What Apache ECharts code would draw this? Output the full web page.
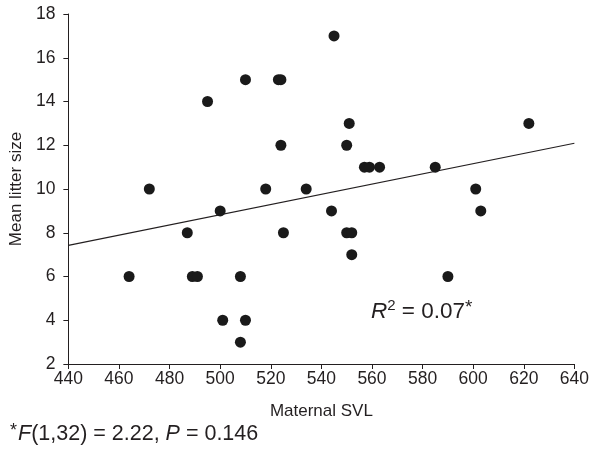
<!DOCTYPE html>
<html>
<head>
<meta charset="utf-8">
<script src="https://cdn.jsdelivr.net/npm/echarts@6/dist/echarts.min.js"></script>
<style>html,body{margin:0;padding:0;background:#fff}#c{width:592px;height:453px}</style>
</head>
<body>
<div id="c"></div>
<script>
// Maternal SVL values
var svl = [464,472,487,489,491,495,500,501,508,508,510,510,518,523,524,524,525,534,544,545,550,550,551,552,552,557,559,563,585,590,601,603,622];
// Mean litter size values
var litter = [6,10,8,6,6,14,9,4,6,3,15,4,10,15,15,12,8,10,9,17,12,8,13,8,7,11,11,11,11,6,10,9,13];
// Regression line end points
var fitX = [440, 640];
var fitY = [7.42, 12.09];
var xTicks = {min:440, max:640, interval:20};
var yTicks = {min:2, max:18, interval:2};

var pts = svl.map(function(x,i){return [x, litter[i]];});
var fit = fitX.map(function(x,i){return [x, fitY[i]];});
var font = 'Liberation Sans, Arial, sans-serif';
var ink = '#231f20';

var chart = echarts.init(document.getElementById('c'));
chart.setOption({
  animation:false,
  backgroundColor:'#fff',
  grid:{left:67,right:17,top:14,bottom:89,containLabel:false},
  xAxis:{type:'value',min:xTicks.min,max:xTicks.max,interval:xTicks.interval,
    name:'Maternal SVL',nameLocation:'middle',nameGap:39,
    nameTextStyle:{fontFamily:font,fontSize:17,color:ink},
    axisLine:{onZero:false,lineStyle:{color:ink,width:1}},
    axisTick:{show:true,length:5,inside:false,lineStyle:{color:ink}},
    axisLabel:{fontFamily:font,fontSize:17.5,color:ink,margin:6},
    splitLine:{show:false}},
  yAxis:{type:'value',min:yTicks.min,max:yTicks.max,interval:yTicks.interval,
    name:'Mean litter size',nameLocation:'middle',nameGap:40,
    nameTextStyle:{fontFamily:font,fontSize:17,color:ink},
    axisLine:{show:true,onZero:false,lineStyle:{color:ink,width:1}},
    axisTick:{show:true,length:5,inside:false,lineStyle:{color:ink}},
    axisLabel:{fontFamily:font,fontSize:17.5,color:ink,margin:13},
    splitLine:{show:false}},
  series:[
    {type:'line',data:fit,symbol:'none',lineStyle:{color:ink,width:1.2},z:1,silent:true},
    {type:'scatter',data:pts,symbol:'circle',symbolSize:11,itemStyle:{color:'#1a1a1a',opacity:1},z:2}
  ],
  graphic:[
    {type:'text',left:371,top:298,style:{
      rich:{
        i:{fontFamily:font,fontSize:22.5,fontStyle:'italic',fill:ink},
        s:{fontFamily:font,fontSize:15,fill:ink,padding:[0,0,13,0]},
        a:{fontFamily:font,fontSize:19,fill:ink,padding:[0,0,8,0]},
        n:{fontFamily:font,fontSize:22.5,fill:ink}
      },
      text:'{i|R}{s|2}{n| = 0.07}{a|*}'
    }},
    {type:'text',left:10,top:422,style:{
      rich:{
        i:{fontFamily:font,fontSize:21.5,fontStyle:'italic',fill:ink},
        a:{fontFamily:font,fontSize:18,fill:ink,padding:[0,1,6,0]},
        n:{fontFamily:font,fontSize:21.5,fill:ink}
      },
      text:'{a|*}{i|F}{n|(1,32) = 2.22, }{i|P}{n| = 0.146}'
    }}
  ]
});
</script>
</body>
</html>
